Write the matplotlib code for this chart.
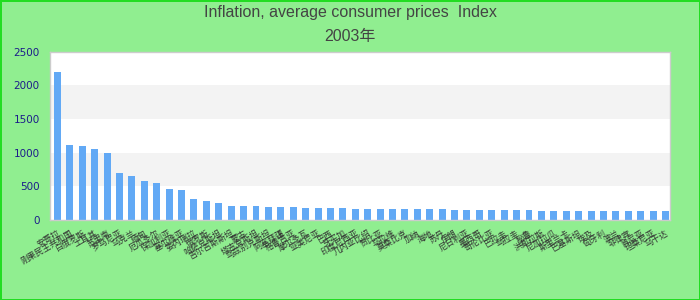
import matplotlib
matplotlib.use("Agg")
import matplotlib.pyplot as plt
from matplotlib import font_manager

title_line1 = "Inflation, average consumer prices  Index"
title_line2 = "2003年"

countries = ["安哥拉", "刚果民主共和国", "白俄罗斯", "土耳其", "苏里南", "罗马尼亚", "乌克兰", "缅甸",
             "厄瓜多尔", "保加利亚", "塞尔维亚", "委内瑞拉", "俄罗斯", "哈萨克斯坦", "吉尔吉斯斯坦", "蒙古",
             "塔吉克斯坦", "乌兹别克斯坦", "阿塞拜疆", "格鲁吉亚", "摩尔多瓦", "亚美尼亚", "巴西", "牙买加",
             "印度尼西亚", "几内亚比绍", "赞比亚", "马拉维", "莫桑比克", "加纳", "海地", "苏丹",
             "伊朗", "尼日利亚", "墨西哥", "哥伦比亚", "巴拉圭", "乌拉圭", "秘鲁", "洪都拉斯",
             "尼加拉瓜", "斯里兰卡", "巴基斯坦", "埃及", "匈牙利", "波兰", "菲律宾", "肯尼亚",
             "坦桑尼亚", "乌干达"]
values = [2200, 1115, 1100, 1055, 995, 700, 655, 580, 550, 460,
          445, 312, 282, 252, 210, 209, 206, 194, 193, 191,
          179, 178, 177, 176, 165, 164, 164, 163, 163, 162,
          162, 161, 149, 148, 148, 147, 147, 146, 146, 135,
          135, 134, 134, 134, 133, 133, 133, 132, 132, 132]
y_ticks = [0, 500, 1000, 1500, 2000, 2500]

avail = {f.name for f in font_manager.fontManager.ttflist}
title_font = "Liberation Sans Narrow" if "Liberation Sans Narrow" in avail else "Liberation Sans"

fig = plt.figure(figsize=(7, 3), dpi=100)
fig.patch.set_facecolor("#90ee90")
fig.patch.set_edgecolor("#22dd22")
fig.patch.set_linewidth(2)

ax = fig.add_axes([50/700, 1-220/300, 620/700, (220-51.7)/300])
ax.set_facecolor("white")
for lo, hi in [(500, 1000), (1500, 2000)]:
    ax.axhspan(lo, hi, color="#f3f3f3", zorder=0, lw=0)

x = list(range(len(values)))
ax.bar(x, values, width=0.56, color="#62a9f5", zorder=2)
ax.set_xlim(-0.6, len(values) - 0.64)
ax.set_ylim(0, 2500)
ax.set_yticks(y_ticks)
ax.set_yticklabels([str(v) for v in y_ticks], color="#1c1c8a", fontsize=7.5, family="DejaVu Sans")
ax.tick_params(axis="y", length=0, pad=7.5)
ax.set_xticks(x)
ax.set_xticklabels(countries, rotation=30, ha="right", rotation_mode="anchor",
                   fontsize=6, color="#333333", family=["Noto Sans CJK SC", "DejaVu Sans"])
ax.tick_params(axis="x", length=0, pad=6)
for s in ax.spines.values():
    s.set_color("#cccccc")
    s.set_linewidth(1)

fig.text(0.5, 1-13/300, title_line1, ha="center", va="center", fontsize=11.5,
         color="#444444", family=[title_font, "DejaVu Sans"])
fig.text(0.5, 1-37/300, title_line2, ha="center", va="center", fontsize=11.5,
         color="#444444", family=[title_font, "Noto Sans CJK SC", "DejaVu Sans"])

fig.savefig("out.png", dpi=100, facecolor=fig.get_facecolor(), edgecolor=fig.get_edgecolor())
